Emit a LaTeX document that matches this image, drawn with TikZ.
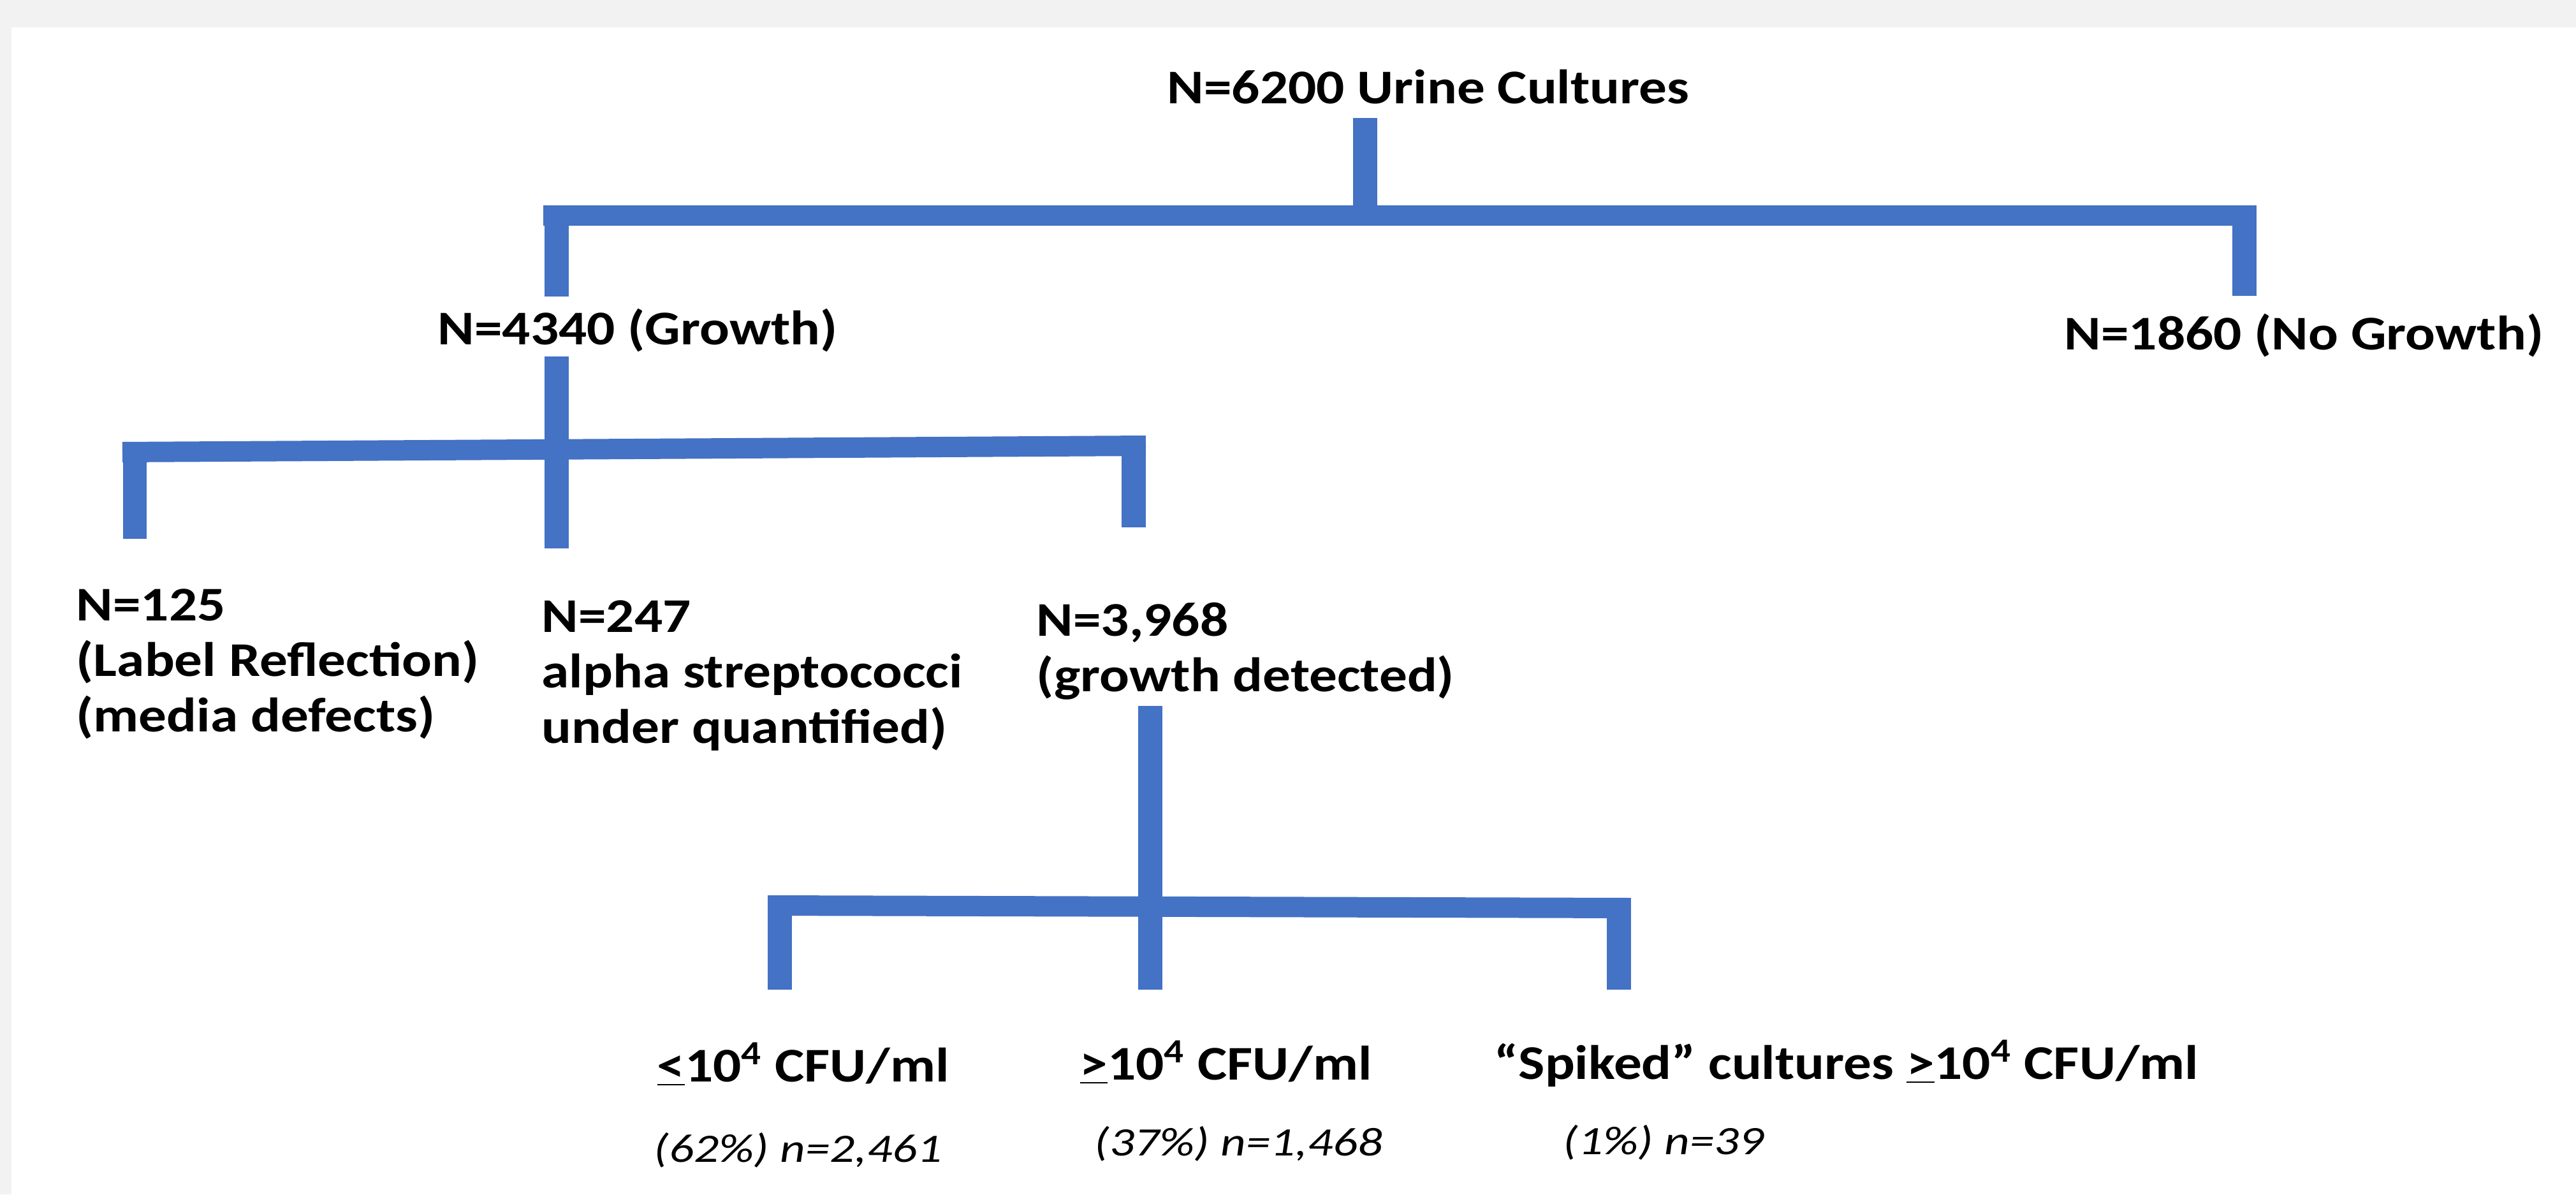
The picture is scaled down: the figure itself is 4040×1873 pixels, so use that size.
\documentclass[tikz,border=0pt]{standalone}
\usepackage{fontspec}
\setmainfont{Carlito}[FakeStretch=1.15]
\newfontfamily\pctfont{Carlito}[FakeStretch=1.22]
\definecolor{barblue}{HTML}{4472C4}
\definecolor{framegray}{HTML}{F2F2F2}
\begin{document}
\begin{tikzpicture}[x=0.01cm,y=-0.01cm,
  lbl/.style={font=\bfseries\fontsize{21.6}{24.75}\selectfont, inner sep=0pt, anchor=base west},
  pct/.style={font=\pctfont\itshape\fontsize{18}{21}\selectfont, inner sep=0pt, anchor=base west},
  vline/.style={draw=barblue, line width=10.8pt},
  hline/.style={draw=barblue, line width=9.1pt}]
\fill[framegray] (0,0) rectangle (4040,1873);
\fill[white] (18,43) rectangle (4040,1873);
\useasboundingbox (0,0) rectangle (4040,1873);

% texts
\node[lbl] (root) at (1830,163) {N=6200 Urine Cultures};
\node[lbl] (growth) at (686,540) {N=4340 (Growth)};
\node[lbl] (nogrowth) at (3237,548) {N=1860 (No Growth)};
\node[lbl] (n125) at (119,973) {\begin{tabular}[t]{@{}l@{}}N=125\\(Label Reflection)\\(media defects)\end{tabular}};
\node[lbl] (n247) at (849,991) {\begin{tabular}[t]{@{}l@{}}N=247\\alpha streptococci\\under quantified)\end{tabular}};
\node[lbl] (n3968) at (1625,997) {\begin{tabular}[t]{@{}l@{}}N=3,968\\(growth detected)\end{tabular}};
\node[lbl] (low) at (1030,1696) {\underline{<}10\textsuperscript{4} CFU/ml};
\node[lbl] (high) at (1693,1693) {\underline{>}10\textsuperscript{4} CFU/ml};
\node[lbl] (spiked) at (2343,1692) {“Spiked” cultures \underline{>}10\textsuperscript{4} CFU/ml};
\node[pct] (p62) at (1025,1822) {(62\%) n=2,461};
\node[pct] (p37) at (1716,1812) {(37\%) n=1,468};
\node[pct] (p1) at (2451,1810) {(1\%) n=39};

% connector points
\coordinate (s0t) at (2141,185);  \coordinate (s0b) at (2141,338);
\coordinate (b0l) at (852,338);   \coordinate (b0r) at (3539,338);
\coordinate (p0lt) at (873,322);  \coordinate (p0lb) at (873,465);
\coordinate (p0rt) at (3520,322); \coordinate (p0rb) at (3520,464);

\coordinate (s1t) at (873,559);   \coordinate (s1b) at (873,860);
\coordinate (b1l) at (192,709);   \coordinate (b1r) at (1797,699);
\coordinate (p1lt) at (211.5,693); \coordinate (p1lb) at (211.5,845);
\coordinate (p1rt) at (1778,683);  \coordinate (p1rb) at (1778,827);

\coordinate (s2t) at (1804,1107); \coordinate (s2b) at (1804,1552);
\coordinate (b2l) at (1205,1420); \coordinate (b2r) at (2557,1424);
\coordinate (p2lt) at (1222.5,1404); \coordinate (p2lb) at (1222.5,1552);
\coordinate (p2rt) at (2538.5,1408); \coordinate (p2rb) at (2538.5,1552);

% level 0
\draw[vline] (s0t) -- (s0b);
\draw[hline] (b0l) -- (b0r);
\draw[vline] (p0lt) -- (p0lb);
\draw[vline] (p0rt) -- (p0rb);
% level 1
\draw[vline] (s1t) -- (s1b);
\draw[hline] (b1l) -- (b1r);
\draw[vline] (p1lt) -- (p1lb);
\draw[vline] (p1rt) -- (p1rb);
% level 2
\draw[vline] (s2t) -- (s2b);
\draw[hline] (b2l) -- (b2r);
\draw[vline] (p2lt) -- (p2lb);
\draw[vline] (p2rt) -- (p2rb);
\end{tikzpicture}
\end{document}
